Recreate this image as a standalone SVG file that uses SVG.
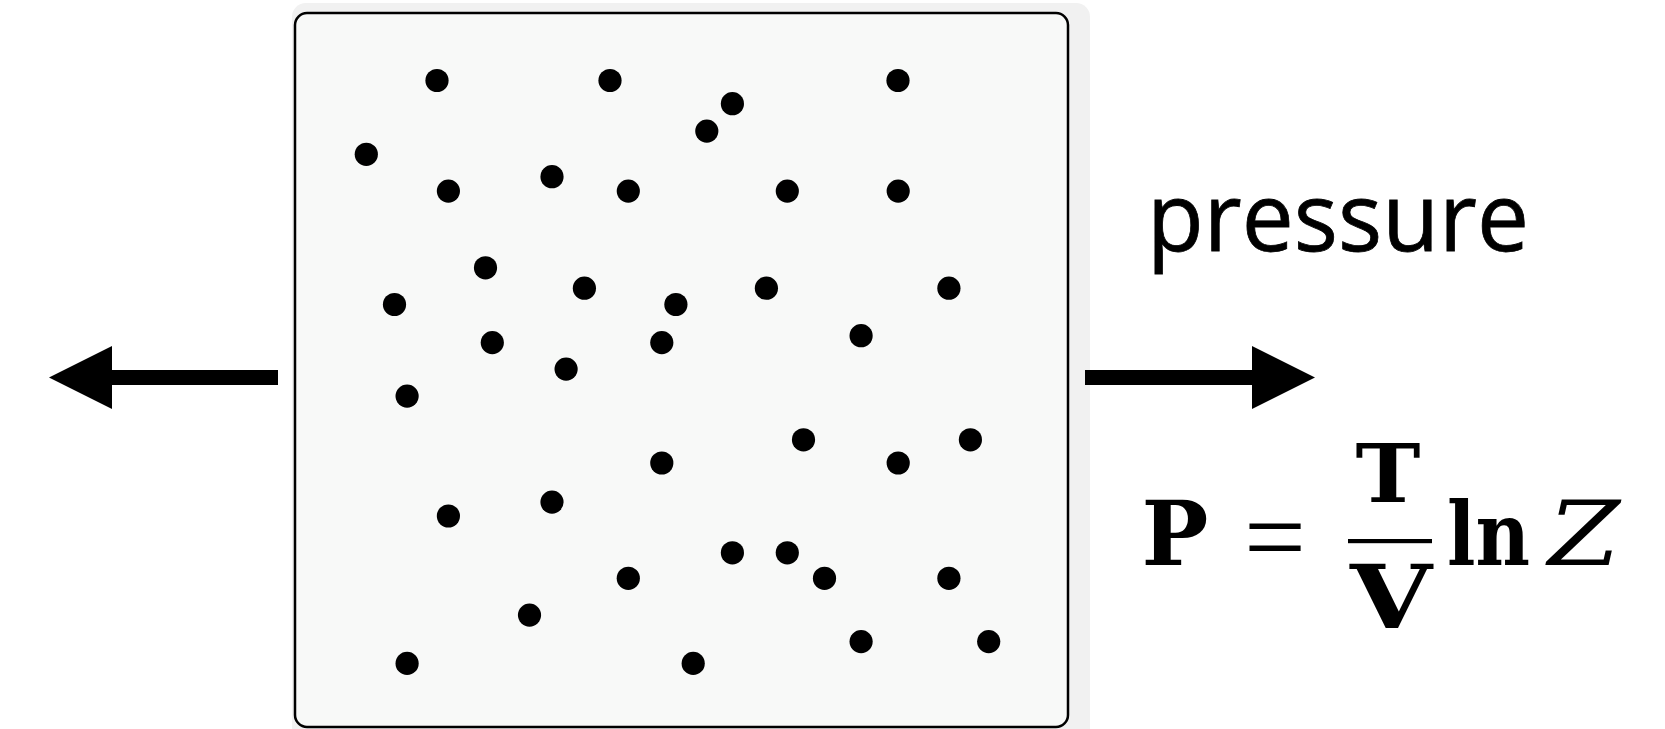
<svg xmlns="http://www.w3.org/2000/svg" width="1665" height="729" viewBox="0 0 1665 729">
<style>
.dot{fill:#000}
.conn{stroke:#000;stroke-width:15;fill:none;stroke-linecap:butt}
.math{font-family:"DejaVu Serif","Liberation Serif",serif;fill:#000}
.label{font-family:"Open Sans","Noto Sans",sans-serif;font-size:96px;fill:#000;stroke:#000;stroke-width:0.8}
</style>
<defs>
<marker id="head" viewBox="0 0 63 63" markerUnits="userSpaceOnUse" markerWidth="63" markerHeight="63" refX="0" refY="31.5" orient="auto">
<path d="M0,0 L63,31.5 L0,63 Z" fill="#000"/>
</marker>
</defs>
<rect width="1665" height="729" fill="#fff"/>
<g id="container">
<rect x="292" y="3" width="798" height="740" rx="14" fill="#f1f1f1"/>
<rect x="295" y="13" width="773" height="714" rx="12" fill="#f8f9f8" stroke="#000" stroke-width="2.5"/>
</g>
<g id="particles">
<circle class="dot" cx="437" cy="80.5" r="11.6"/>
<circle class="dot" cx="610" cy="80.5" r="11.6"/>
<circle class="dot" cx="898" cy="80.5" r="11.6"/>
<circle class="dot" cx="732.4" cy="103.7" r="11.6"/>
<circle class="dot" cx="706.8" cy="131.1" r="11.6"/>
<circle class="dot" cx="366.3" cy="154.3" r="11.6"/>
<circle class="dot" cx="448.4" cy="191.1" r="11.6"/>
<circle class="dot" cx="552" cy="176.7" r="11.6"/>
<circle class="dot" cx="628.3" cy="191.1" r="11.6"/>
<circle class="dot" cx="787.3" cy="191.1" r="11.6"/>
<circle class="dot" cx="898.2" cy="191.1" r="11.6"/>
<circle class="dot" cx="485.5" cy="267.8" r="11.6"/>
<circle class="dot" cx="394.5" cy="304.5" r="11.6"/>
<circle class="dot" cx="584.4" cy="288.2" r="11.6"/>
<circle class="dot" cx="675.9" cy="304.5" r="11.6"/>
<circle class="dot" cx="766.4" cy="288.2" r="11.6"/>
<circle class="dot" cx="948.9" cy="288.2" r="11.6"/>
<circle class="dot" cx="492.3" cy="342.6" r="11.6"/>
<circle class="dot" cx="661.8" cy="342.6" r="11.6"/>
<circle class="dot" cx="566.1" cy="369.1" r="11.6"/>
<circle class="dot" cx="861.1" cy="335.7" r="11.6"/>
<circle class="dot" cx="407.1" cy="396.1" r="11.6"/>
<circle class="dot" cx="803.5" cy="439.8" r="11.6"/>
<circle class="dot" cx="970.4" cy="439.8" r="11.6"/>
<circle class="dot" cx="661.8" cy="463" r="11.6"/>
<circle class="dot" cx="898.2" cy="463" r="11.6"/>
<circle class="dot" cx="448.4" cy="516" r="11.6"/>
<circle class="dot" cx="552" cy="502.1" r="11.6"/>
<circle class="dot" cx="732.4" cy="552.8" r="11.6"/>
<circle class="dot" cx="787.3" cy="552.8" r="11.6"/>
<circle class="dot" cx="824.5" cy="578.3" r="11.6"/>
<circle class="dot" cx="628.3" cy="578.3" r="11.6"/>
<circle class="dot" cx="948.9" cy="578.3" r="11.6"/>
<circle class="dot" cx="529.5" cy="615.1" r="11.6"/>
<circle class="dot" cx="407.1" cy="663.4" r="11.6"/>
<circle class="dot" cx="693.2" cy="663.4" r="11.6"/>
<circle class="dot" cx="861.1" cy="641.6" r="11.6"/>
<circle class="dot" cx="988.7" cy="641.6" r="11.6"/>
</g>
<g id="connectors">
<line class="conn" x1="278" y1="377.5" x2="112" y2="377.5" marker-end="url(#head)"/>
<line class="conn" x1="1085" y1="377.5" x2="1252" y2="377.5" marker-end="url(#head)"/>
</g>
<g id="pressure-label">
<text class="label" x="1147" y="251" textLength="382" lengthAdjust="spacingAndGlyphs">pressure</text>
</g>
<g id="equation">
<text class="math" x="1175" y="565" font-size="89" font-weight="bold" text-anchor="middle">P</text>
<text x="1275" y="574" font-family="Liberation Serif, serif" font-size="110" text-anchor="middle" textLength="62" lengthAdjust="spacingAndGlyphs">=</text>
<text class="math" x="1388" y="501.5" font-size="81" font-weight="bold" text-anchor="middle" textLength="65" lengthAdjust="spacingAndGlyphs">T</text>
<rect x="1348" y="539" width="84" height="4.2" fill="#000"/>
<text class="math" x="1391" y="628" font-size="88" font-weight="bold" text-anchor="middle" textLength="82" lengthAdjust="spacingAndGlyphs">V</text>
<text class="math" x="1447" y="565" font-size="87" font-weight="bold" textLength="83" lengthAdjust="spacingAndGlyphs">ln</text>
<text class="math" x="1548" y="565" font-size="89" font-style="italic" textLength="72" lengthAdjust="spacingAndGlyphs">Z</text>
</g>
</svg>
